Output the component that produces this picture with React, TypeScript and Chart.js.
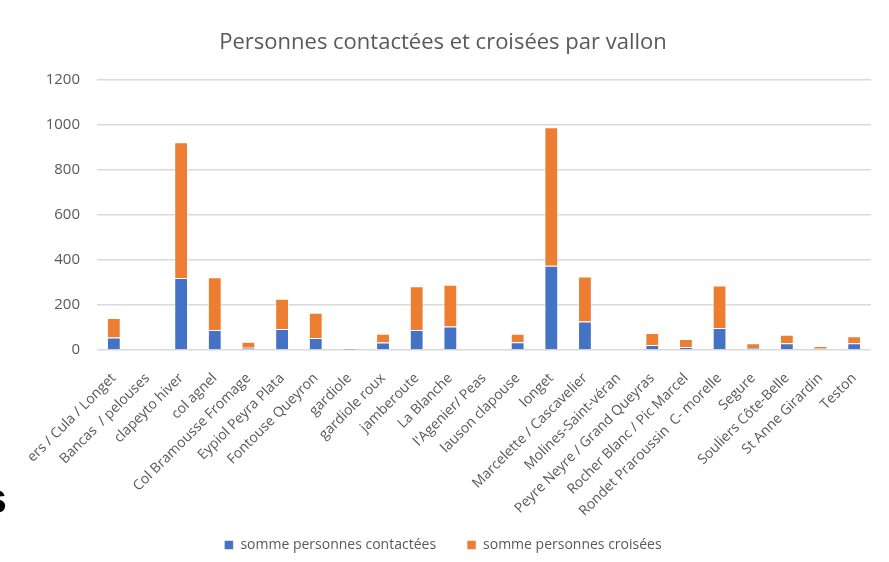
import React, { useEffect, useRef } from "react";
import { Chart, registerables } from "chart.js";

Chart.register(...registerables);

const categories: string[] = [
  "ers / Cula / Longet",
  "Bancas  / pelouses",
  "clapeyto hiver",
  "col agnel",
  "Col Bramousse Fromage",
  "Eypiol Peyra Plata",
  "Fontouse Queyron",
  "gardiole",
  "gardiole roux",
  "jamberoute",
  "La Blanche",
  "l'Agenier/ Peas",
  "lauson clapouse",
  "longet",
  "Marcelette / Cascavelier",
  "Molines-Saint-véran",
  "Peyre Neyre / Grand Queyras",
  "Rocher Blanc / Pic Marcel",
  "Rondet Praroussin  C- morelle",
  "Segure",
  "Souliers Côte-Belle",
  "St Anne Girardin",
  "Teston",
];

const contactees: number[] = [56, 0, 320, 89, 10, 93, 53, 1, 33, 89, 104, 0, 34, 375, 127, 0, 22, 13, 98, 9, 30, 6, 30];
const croisees: number[] = [86, 0, 603, 234, 27, 135, 113, 5, 39, 194, 186, 0, 38, 615, 200, 0, 54, 36, 189, 21, 38, 12, 31];

const seriesNames: string[] = ["somme personnes contactées", "somme personnes croisées"];
const titleText = "Personnes contactées et croisées par vallon";
const yTicks: number[] = [0, 200, 400, 600, 800, 1000, 1200];

const FONT = "'Open Sans', 'Noto Sans', sans-serif";
const GREY = "#595959";

export default function App() {
  const ref = useRef<HTMLCanvasElement | null>(null);

  useEffect(() => {
    if (!ref.current) return;
    const chart = new Chart(ref.current, {
      type: "bar",
      data: {
        labels: categories,
        datasets: [
          {
            label: seriesNames[0],
            data: contactees,
            backgroundColor: "#4472C4",
            borderColor: "rgba(255,255,255,0.5)",
            borderWidth: 1,
            categoryPercentage: 1,
            barPercentage: 0.41,
          },
          {
            label: seriesNames[1],
            data: croisees,
            backgroundColor: "#ED7D31",
            borderColor: "rgba(255,255,255,0.5)",
            borderWidth: 1,
            categoryPercentage: 1,
            barPercentage: 0.41,
          },
        ],
      },
      options: {
        animation: false,
        responsive: true,
        maintainAspectRatio: false,
        layout: { padding: { left: 15, right: 18, top: 0, bottom: 0 } },
        plugins: {
          title: {
            display: true,
            text: titleText,
            color: GREY,
            font: { family: FONT, size: 22, weight: "normal" },
            padding: { top: 30, bottom: 23.6 },
          },
          legend: {
            display: true,
            position: "bottom",
            labels: {
              color: GREY,
              font: { family: FONT, size: 14 },
              boxWidth: 9,
              boxHeight: 9,
              padding: 31,
            },
          },
          tooltip: { enabled: false },
        },
        scales: {
          x: {
            stacked: true,
            grid: { display: false, drawTicks: false },
            border: { display: false },
            ticks: {
              color: GREY,
              font: { family: FONT, size: 14 },
              minRotation: 45,
              maxRotation: 45,
              autoSkip: false,
              padding: 20,
            },
            afterFit: (scale: any) => {
              scale.height = 157;
              scale._computeLabelArea = () => undefined;
            },
          },
          y: {
            stacked: true,
            min: 0,
            max: 1200,
            afterBuildTicks: (scale: any) => {
              scale.ticks = yTicks.map((v) => ({ value: v }));
            },
            grid: { color: "#d9d9d9", lineWidth: 1.5, drawTicks: false },
            border: { display: false },
            ticks: {
              color: GREY,
              font: { family: FONT, size: 15 },
              padding: 17,
              callback: (v: any) => String(v),
            },
            afterFit: (scale: any) => {
              scale.width = 82;
            },
          },
        },
      },
    });
    return () => chart.destroy();
  }, []);

  return (
    <div style={{ position: "fixed", left: 0, top: 0, width: 889, height: 562, background: "#fff", overflow: "hidden" }}>
      <canvas ref={ref} />
      <div
        style={{
          position: "absolute",
          left: -16.5,
          top: 478,
          fontFamily: "'Liberation Sans', Arial, sans-serif",
          fontWeight: "bold",
          fontSize: 42,
          lineHeight: 1,
          color: "#000",
        }}
      >
        s
      </div>
    </div>
  );
}
